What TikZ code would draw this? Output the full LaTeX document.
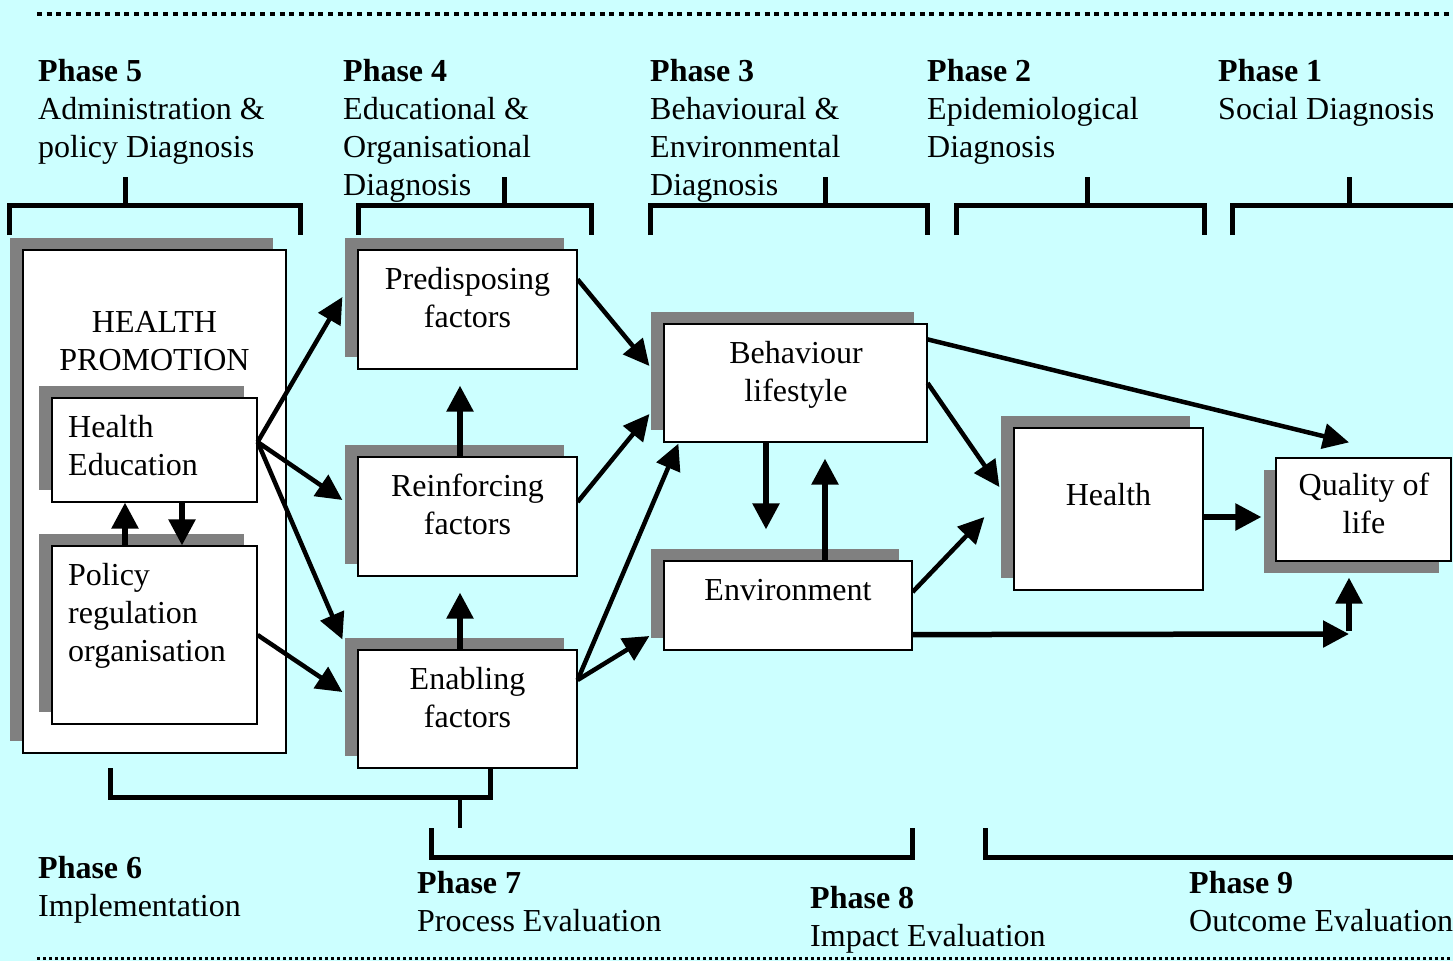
\documentclass[tikz,border=0pt]{standalone}
\usepackage{fontspec}
\setmainfont{Liberation Serif}
\usetikzlibrary{arrows.meta,calc,shadows}
\definecolor{bg}{HTML}{CCFFFF}
\definecolor{shade}{HTML}{808080}
\begin{document}
\begin{tikzpicture}[x=1pt,y=-1pt,
  every node/.style={font=\fontsize{32}{38}\selectfont},
  wbox/.style={draw=black, line width=1.2pt, fill=white, inner sep=0pt,
    general shadow={fill=shade, shadow xshift=-13pt, shadow yshift=12pt}},
  wboxlow/.style={draw=black, line width=1.2pt, fill=white, inner sep=0pt,
    general shadow={fill=shade, shadow xshift=-12pt, shadow yshift=-12pt}},
  tc/.style={anchor=north, inner sep=0pt, align=center},
  tl/.style={anchor=north west, inner sep=0pt, align=left},
  phase/.style={anchor=north west, inner sep=0pt, align=left},
  arr/.style={line width=4.5pt, -{Triangle[length=26pt,width=25pt]}},
  arrs/.style={line width=5.5pt, -{Triangle[length=26pt,width=26pt]}},
  brk/.style={line width=5pt},
]
\useasboundingbox (0,0) rectangle (1453,961);
\fill[bg] (0,0) rectangle (1453,961);
\clip (0,0) rectangle (1453,961);

% dotted rules
\draw[line width=4.5pt, dash pattern=on 5pt off 4.7pt] (37,14) -- (1453,14);
\draw[line width=3pt, dash pattern=on 3pt off 3pt] (37,958) -- (1453,958);

% top phase texts
\node[phase] (p5) at (38,54.4) {\strut\textbf{Phase 5}\\Administration \&\\policy Diagnosis};
\node[phase] (p4) at (343,54.4) {\strut\textbf{Phase 4}\\Educational \&\\Organisational\\Diagnosis};
\node[phase] (p3) at (650,54.4) {\strut\textbf{Phase 3}\\Behavioural \&\\Environmental\\Diagnosis};
\node[phase] (p2) at (927,54.4) {\strut\textbf{Phase 2}\\Epidemiological\\Diagnosis};
\node[phase] (p1) at (1218,54.4) {\strut\textbf{Phase 1}\\Social Diagnosis};

% top brackets
\draw[brk] (9,235) -- (9,205.5) -- (300,205.5) -- (300,235);
\draw[brk] (125,205.5) -- (125,177);
\draw[brk] (358,235) -- (358,205.5) -- (591,205.5) -- (591,235);
\draw[brk] (504,205.5) -- (504,177);
\draw[brk] (650,235) -- (650,205.5) -- (927,205.5) -- (927,235);
\draw[brk] (825,205.5) -- (825,177);
\draw[brk] (956,235) -- (956,205.5) -- (1204,205.5) -- (1204,235);
\draw[brk] (1087,205.5) -- (1087,177);
\draw[brk] (1232,235) -- (1232,205.5) -- (1460,205.5);
\draw[brk] (1349,205.5) -- (1349,177);

% boxes
\node[wbox, minimum width=263pt, minimum height=503pt] (hp) at (154.5,501.5) {};
\node[tc] (hptxt) at (154.5,305.4) {\strut HEALTH\\PROMOTION};
\node[wbox, minimum width=205pt, minimum height=104pt] (he) at (154.5,450) {};
\node[tl] (hetxt) at (68,410.4) {\strut Health\\Education};
\node[wbox, minimum width=205pt, minimum height=178pt] (pol) at (154.5,635) {};
\node[tl] (poltxt) at (68,558.4) {\strut Policy\\regulation\\organisation};

\node[wbox, minimum width=219pt, minimum height=119pt] (pre) at (467.5,309.5) {};
\node[tc] (pretxt) at (467.5,262.4) {\strut Predisposing\\factors};
\node[wbox, minimum width=219pt, minimum height=119pt] (rei) at (467.5,516.5) {};
\node[tc] (reitxt) at (467.5,469.4) {\strut Reinforcing\\factors};
\node[wbox, minimum width=219pt, minimum height=118pt] (ena) at (467.5,709) {};
\node[tc] (enatxt) at (467.5,662.4) {\strut Enabling\\factors};

\node[wbox, minimum width=263pt, minimum height=118pt] (beh) at (795.5,383) {};
\node[tc] (behtxt) at (796,336.4) {\strut Behaviour\\lifestyle};
\node[wbox, minimum width=248pt, minimum height=89pt] (env) at (788,605.5) {};
\node[tc] (envtxt) at (788,573.4) {\strut Environment};

\node[wbox, minimum width=189pt, minimum height=162pt] (hea) at (1108.5,509) {};
\node[tc] (heatxt) at (1108.5,478.4) {\strut Health};
\node[wboxlow, minimum width=175pt, minimum height=103pt] (qol) at (1363.5,509.5) {};
\node[tc] (qoltxt) at (1364,468.4) {\strut Quality of\\life};

% arrows
\draw[arr] ($(he.east)+(0,-8)$) -- ($(pre.west)+(-15,-12.5)$);
\draw[arr] ($(he.east)+(0,-8)$) -- ($(rei.west)+(-15,-16.5)$);
\draw[arr] ($(he.east)+(0,-8)$) -- ($(ena.north west)+(-15,-10)$);
\draw[arr] (pol.east) -- ($(ena.west)+(-15,-17)$);
\draw[arrs] ($(he.south)+(27.5,0)$) -- ($(pol.north)+(27.5,0)$);
\draw[arrs] ($(pol.north)+(-29.5,0)$) -- ($(he.south)+(-29.5,0)$);
\draw[arrs] ($(rei.north)+(-7.5,0)$) -- ($(pre.south)+(-7.5,16)$);
\draw[arrs] ($(ena.north)+(-7.5,0)$) -- ($(rei.south)+(-7.5,16)$);

\draw[arr] ($(pre.north east)+(0,30)$) -- ($(beh.west)+(-14,-17)$);
\draw[arr] ($(rei.east)+(0,-14.5)$) -- ($(beh.west)+(-14,31)$);
\draw[arr] ($(ena.east)+(0,-29)$) -- ($(beh.south west)+(15,1)$);
\draw[arr] ($(ena.east)+(0,-29)$) -- ($(env.west)+(-14,30.5)$);

\draw[arrs] ($(beh.south)+(-29.5,0)$) -- ($(env.north)+(-22,-31)$);
\draw[arrs] ($(env.north)+(37,0)$) -- ($(beh.south)+(29.5,16)$);

\draw[arr] ($(beh.north east)+(0,16)$) -- ($(qol.north)+(-14.5,-15)$);
\draw[arr] (beh.east) -- ($(hea.west)+(-14,-22)$);
\draw[arr] ($(env.east)+(0,-13.5)$) -- ($(hea.west)+(-29,8)$);
\draw[arrs] ($(hea.east)+(0,8)$) -- ($(qol.west)+(-14,7.5)$);
\coordinate (corner) at (1349,634);
\draw[arrs] ($(env.south east)+(0,-16)$) -- (corner);
\draw[arrs] ([yshift=2.7pt]corner) -- ($(qol.south)+(-14.5,16)$);

% bottom brackets
\draw[brk] (110,768) -- (110,797.5) -- (490,797.5) -- (490,768);
\draw[line width=4pt] (460,797.5) -- (460,828);
\draw[brk] (431,828) -- (431,857) -- (912,857) -- (912,828);
\draw[brk] (985,828) -- (985,857) -- (1460,857);

% bottom phase texts
\node[phase] (p6) at (38,851.4) {\strut\textbf{Phase 6}\\Implementation};
\node[phase] (p7) at (417,866.4) {\strut\textbf{Phase 7}\\Process Evaluation};
\node[phase] (p8) at (810,881.4) {\strut\textbf{Phase 8}\\Impact Evaluation};
\node[phase] (p9) at (1189,866.4) {\strut\textbf{Phase 9}\\Outcome Evaluation};
\end{tikzpicture}
\end{document}
